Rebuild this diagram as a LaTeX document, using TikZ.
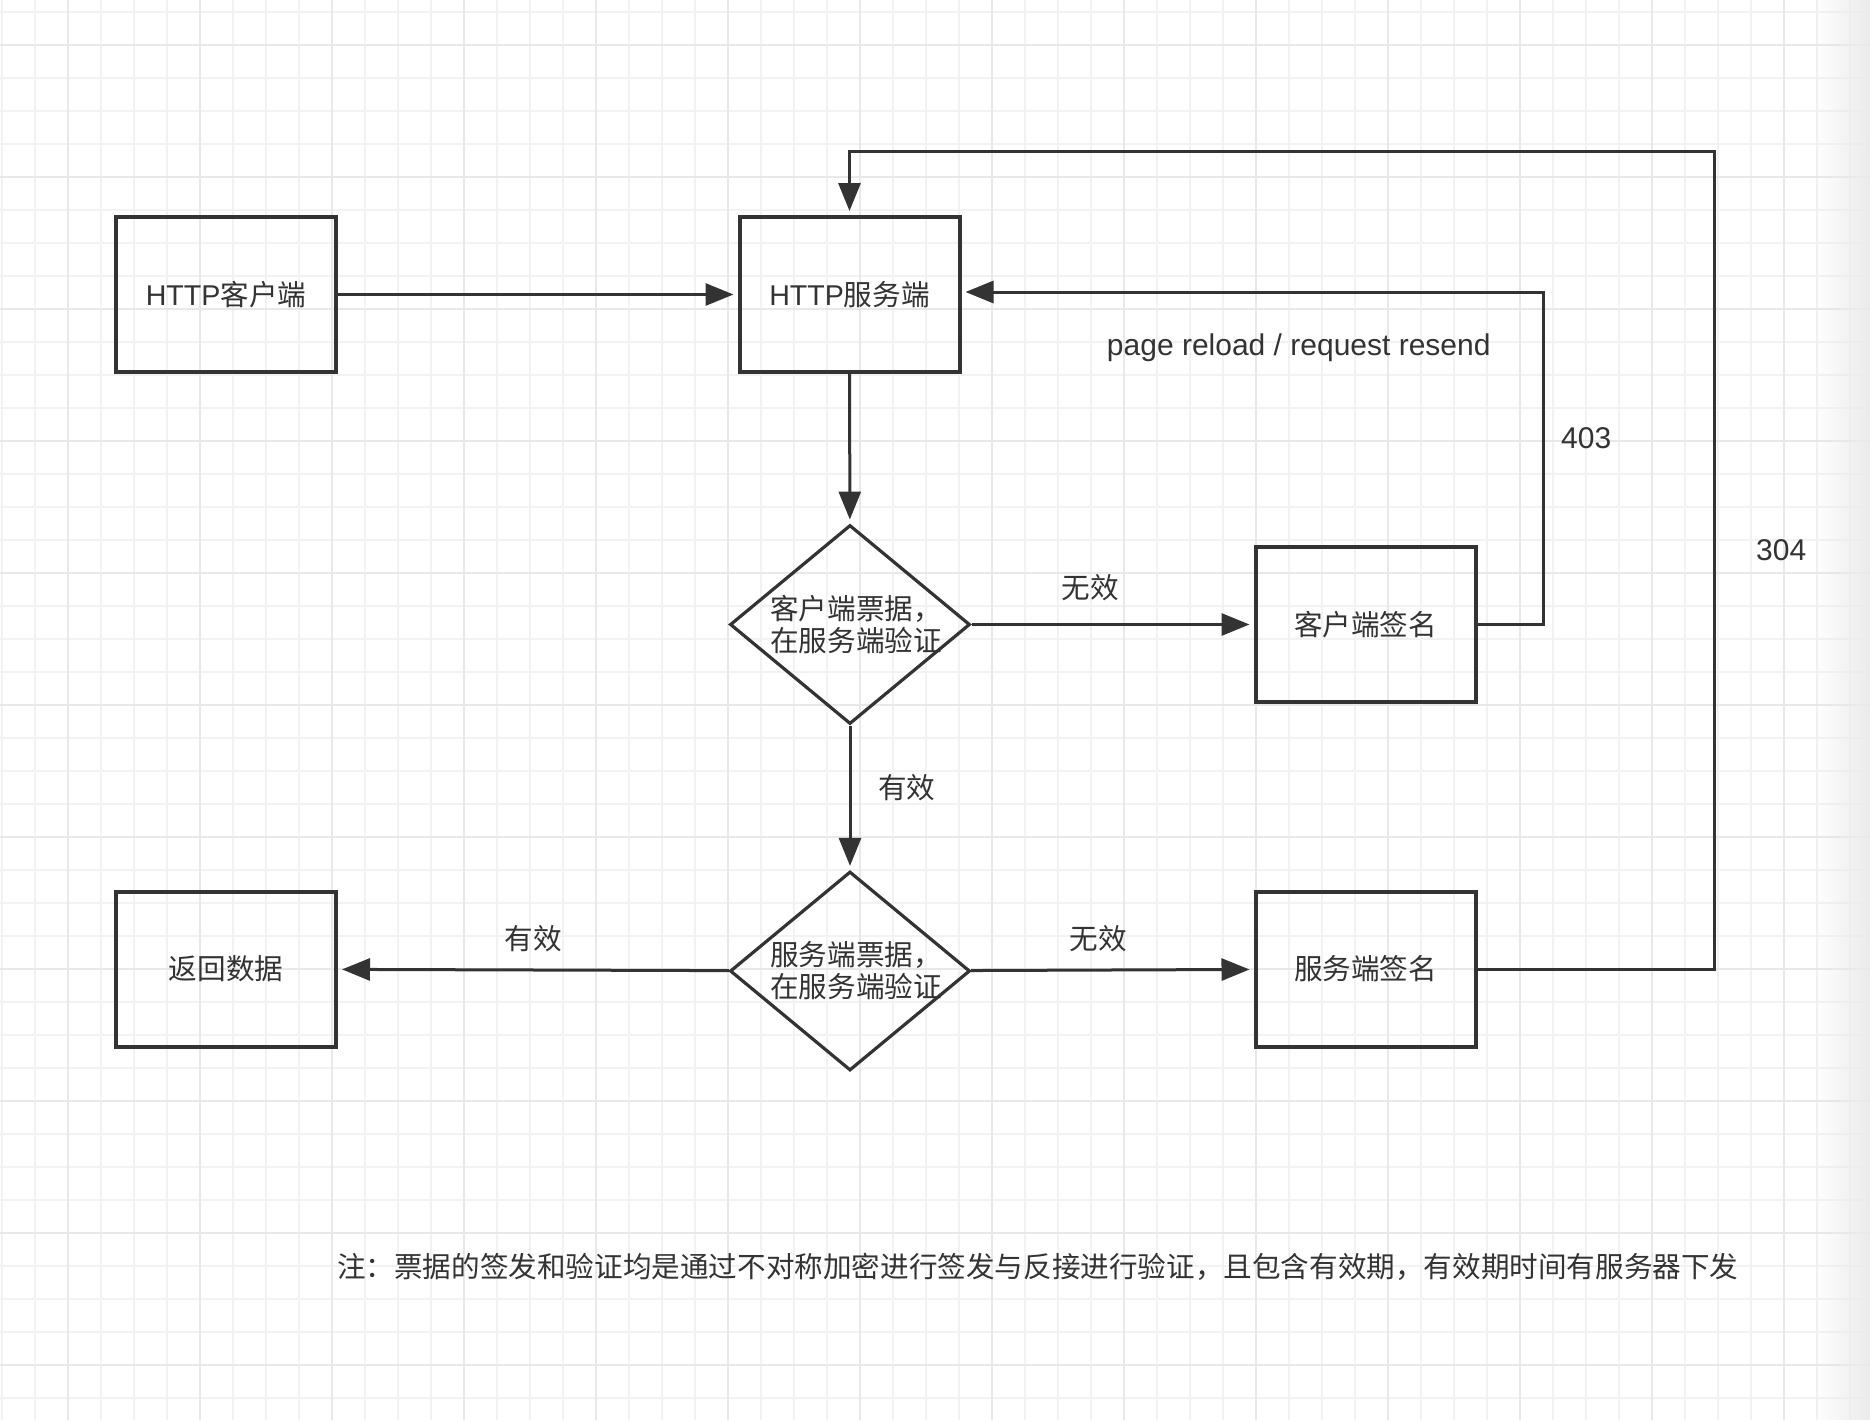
\documentclass[tikz,border=0pt]{standalone}
\usepackage{fontspec}
\setmainfont{Liberation Sans}
\newfontfamily\cjk{Noto Sans CJK SC}
\usetikzlibrary{arrows.meta,shapes.geometric,fadings}
\definecolor{ink}{HTML}{333333}
\definecolor{gridlo}{HTML}{F2F2F2}
\definecolor{gridhi}{HTML}{E8E8E8}

\begin{document}
\begin{tikzpicture}[x=0.5pt,y=-0.5pt,
  every node/.style={text=ink,font=\fontsize{14.3pt}{16pt}\selectfont},
  cn/.style={font=\cjk\fontsize{14.3pt}{16pt}\selectfont},
  tag/.style={font=\fontsize{15pt}{18pt}\selectfont},
  box/.style={draw=ink,line width=2pt,minimum width=110pt,minimum height=77.5pt,inner sep=0pt},
  check/.style={draw=ink,line width=1.6pt,diamond,minimum width=120pt,minimum height=99.5pt,inner sep=0pt},
  chktext/.style={cn,align=left,xshift=3pt},
  arr/.style={draw=ink,line width=1.5pt,-{Triangle[length=14pt,width=11pt]},shorten >=2pt}]
\useasboundingbox (0,0) rectangle (1870,1420);
\fill[white] (0,0) rectangle (1870,1420);

% grid paper
\foreach \i in {0,...,56} \draw[gridlo,line width=1pt] ({2+33*\i},0) -- ++(0,1420);
\foreach \i in {0,...,42} \draw[gridlo,line width=1pt] (0,{12+33*\i}) -- ++(1870,0);
\foreach \i in {0,...,13} \draw[gridhi,line width=1pt] ({68+132*\i},0) -- ++(0,1420);
\foreach \i in {0,...,10} \draw[gridhi,line width=1pt] (0,{45+132*\i}) -- ++(1870,0);
\fill[black!8,path fading=west] (1815,0) rectangle (1870,1420);

% nodes
\node[box] (client) at (226,294.5) {HTTP{\cjk 客户端}};
\node[box] (server) at (849.5,294.5) {HTTP{\cjk 服务端}};
\node[check,label={[chktext]center:客户端票据，\\在服务端验证}] (chk1) at (850,624.5) {};
\node[box,cn] (csign) at (1365.5,624.5) {客户端签名};
\node[check,label={[chktext]center:服务端票据，\\在服务端验证}] (chk2) at (850,971) {};
\node[box,cn] (ret) at (226,969) {返回数据};
\node[box,cn] (ssign) at (1365.5,969) {服务端签名};
\node[cn,anchor=west] (note) at (330,1267) {注：票据的签发和验证均是通过不对称加密进行签发与反接进行验证，且包含有效期，有效期时间有服务器下发};

\coordinate (k403) at (1543,292);
\coordinate (k304) at (1714,151.5);

% connectors
\draw[arr] (client) -- (server);
\draw[arr] (server) -- (chk1);
\draw[arr] (chk1) -- node[cn,pos=0.42,above=7.5pt]{无效} (csign);
\draw[arr] (chk1) -- node[cn,pos=0.43,right=10pt]{有效} (chk2);
\draw[arr] (chk2) -- node[cn,above=5pt]{有效} (ret);
\draw[arr] (chk2) -- node[cn,pos=0.45,above=5pt]{无效} (ssign);
\draw[arr] (csign) -| node[tag,pos=0.78,right=5pt]{403} (k403)
  -- node[tag,pos=0.42,below=17pt]{page reload / request resend} (server.east |- k403);
\draw[arr] (ssign) -| node[tag,pos=0.756,right=17pt]{304} (k304) -| (server);
\end{tikzpicture}
\end{document}
